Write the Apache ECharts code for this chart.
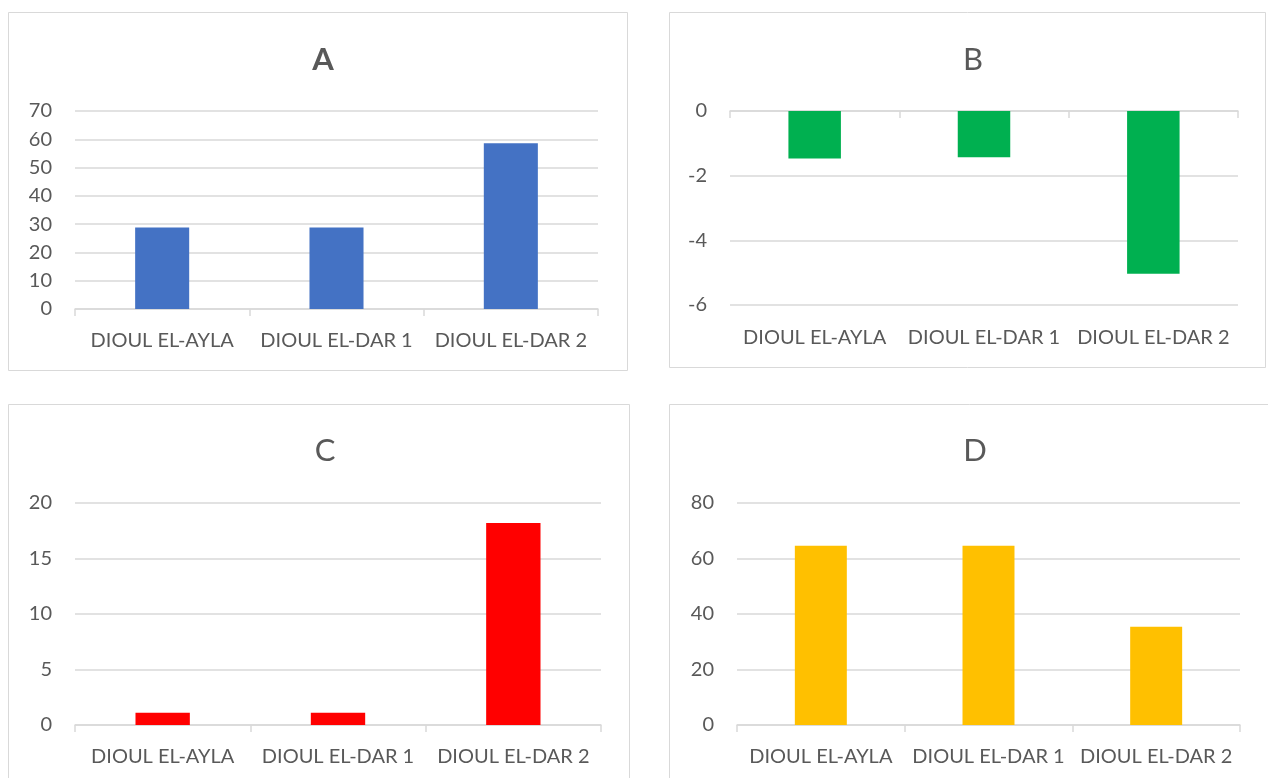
<!DOCTYPE html>
<html><head><meta charset="utf-8">
<script src="https://cdn.jsdelivr.net/npm/echarts@6/dist/echarts.min.js"></script>
<style>html,body{margin:0;padding:0;background:#fff;overflow:hidden}#c{width:1268px;height:778px}</style>
</head><body><div id="c"></div>
<script>
const categories = ['DIOUL EL-AYLA', 'DIOUL EL-DAR 1', 'DIOUL EL-DAR 2'];
const valuesA = [28.8, 28.8, 58.6];
const valuesB = [-1.47, -1.43, -5.03];
const valuesC = [1.1, 1.1, 18.2];
const valuesD = [64.6, 64.6, 35.4];
const panelTitles = ['A', 'B', 'C', 'D'];
const yTicksA = [0, 70, 10];   // min, max, interval
const yTicksB = [-6, 0, 2];
const yTicksC = [0, 20, 5];
const yTicksD = [0, 80, 20];

const FONT = 'Lato';
const TXT = '#595959';
const GRID = '#D9D9D9';

const panels = [
  { title: panelTitles[0], bold: true, values: valuesA, ticks: yTicksA, color: '#4472C4',
    grid: { left: 75, top: 111, width: 523, height: 198 }, tx: 318, ty: 39, lm: 22,
    box: { x: 8.5, y: 12.5, width: 619, height: 358 } },
  { title: panelTitles[1], bold: false, values: valuesB, ticks: yTicksB, color: '#00B050',
    grid: { left: 730, top: 111, width: 508, height: 194 }, tx: 968, ty: 39, lm: 23,
    box: { x: 669.5, y: 12.5, width: 596, height: 355 } },
  { title: panelTitles[2], bold: false, values: valuesC, ticks: yTicksC, color: '#FF0000',
    grid: { left: 75, top: 503, width: 526, height: 222 }, tx: 320, ty: 430, lm: 22,
    box: { x: 8.5, y: 404.5, width: 621, height: 400 } },
  { title: panelTitles[3], bold: false, values: valuesD, ticks: yTicksD, color: '#FFC000',
    grid: { left: 737, top: 503, width: 503, height: 222 }, tx: 970, ty: 430, lm: 22,
    box: { x: 669.5, y: 404.5, width: 620, height: 400 } }
];

const option = {
  animation: false,
  backgroundColor: '#fff',
  textStyle: { fontFamily: FONT },
  title: [], grid: [], xAxis: [], yAxis: [], series: [], graphic: []
};

panels.forEach((p, i) => {
  option.graphic.push({ type: 'rect', shape: p.box, style: { fill: 'none', stroke: GRID, lineWidth: 1 }, silent: true });
  option.title.push({ text: p.title, left: p.tx, top: p.ty, textAlign: 'center',
    textStyle: { fontFamily: FONT, fontSize: 31, fontWeight: p.bold ? 'bold' : 'normal', color: TXT } });
  option.grid.push(p.grid);
  const neg = p.ticks[1] <= 0;
  option.xAxis.push({
    type: 'category', gridIndex: i, data: categories, position: 'bottom',
    axisLine: { show: !neg, onZero: false, lineStyle: { color: GRID, width: 1.5 } },
    axisTick: { show: !neg, length: 7, lineStyle: { color: GRID, width: 1.5 } },
    axisLabel: { color: TXT, fontFamily: FONT, fontSize: 20, margin: p.lm, interval: 0 }
  });
  option.yAxis.push({
    type: 'value', gridIndex: i, min: p.ticks[0], max: p.ticks[1], interval: p.ticks[2],
    axisLine: { show: false }, axisTick: { show: false },
    splitLine: { lineStyle: { color: GRID, width: 1.5 } },
    axisLabel: { color: TXT, fontFamily: FONT, fontSize: 20, margin: 23 }
  });
  option.series.push({
    type: 'bar', xAxisIndex: i, yAxisIndex: i, data: p.values, barWidth: '31%',
    itemStyle: { color: p.color }, silent: true
  });
});

// B: axis line with ticks drawn at value 0 (top of its grid)
option.xAxis.push({
  type: 'category', gridIndex: 1, data: categories, position: 'top',
  axisLine: { show: true, lineStyle: { color: GRID, width: 1.5 } },
  axisTick: { show: true, inside: true, length: 7, lineStyle: { color: GRID, width: 1.5 } },
  axisLabel: { show: false }
});

const chart = echarts.init(document.getElementById('c'), null, { renderer: 'canvas' });
chart.setOption(option);
</script></body></html>
